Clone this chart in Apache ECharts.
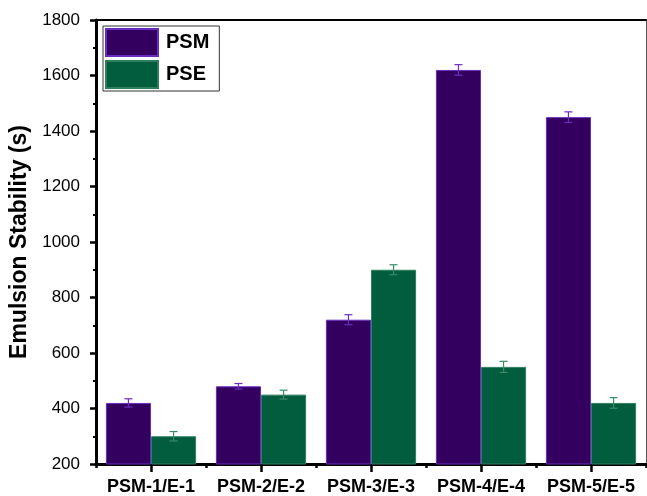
<!DOCTYPE html>
<html>
<head>
<meta charset="utf-8">
<script src="https://cdn.jsdelivr.net/npm/echarts@6/dist/echarts.min.js"></script>
<style>
  html, body { margin: 0; padding: 0; background: #fff; }
  #chart { width: 647px; height: 496px; }
</style>
</head>
<body>
<div id="chart"></div>
<script>
// Sample groups and measured emulsion stability (s) with standard deviations
const categories = ['PSM-1/E-1', 'PSM-2/E-2', 'PSM-3/E-3', 'PSM-4/E-4', 'PSM-5/E-5'];
const psmValues = [420, 480, 720, 1620, 1450];
const psmErrors = [15, 10, 18, 19, 19];
const pseValues = [300, 450, 900, 550, 420];
const pseErrors = [17, 16, 18, 20, 19];
const yTicks = [200, 400, 600, 800, 1000, 1200, 1400, 1600, 1800];

const PURPLE = '#33005f';
const PURPLE_EDGE = '#6a2cc0';
const GREEN = '#025d3f';
const GREEN_EDGE = '#2f7f5e';

const BAR_FRACTION = 0.41;

function errorBarRenderer(sign, color) {
  return function (params, api) {
    const idx = api.value(0);
    const val = api.value(1);
    const err = api.value(2);
    const band = api.size([1, 0])[0];
    const x = api.coord([idx, val])[0] + sign * band * BAR_FRACTION / 2;
    const yHi = api.coord([idx, val + err])[1];
    const yLo = api.coord([idx, val - err])[1];
    const cap = 4;
    const style = { stroke: color, lineWidth: 1.2 };
    return {
      type: 'group',
      children: [
        { type: 'line', shape: { x1: x, y1: yHi, x2: x, y2: yLo }, style },
        { type: 'line', shape: { x1: x - cap, y1: yHi, x2: x + cap, y2: yHi }, style },
        { type: 'line', shape: { x1: x - cap, y1: yLo, x2: x + cap, y2: yLo }, style }
      ]
    };
  };
}

const chart = echarts.init(document.getElementById('chart'), null, { renderer: 'canvas' });

const option = {
  animation: false,
  backgroundColor: '#fff',
  textStyle: { fontFamily: 'Liberation Sans, Arial, sans-serif' },
  grid: { left: 96, right: 1, top: 20, bottom: 31, containLabel: false },
  legend: {
    orient: 'vertical',
    left: 103,
    top: 26,
    itemWidth: 52,
    itemHeight: 27,
    itemGap: 3,
    padding: [2, 10, 2, 2],
    borderColor: '#333',
    borderWidth: 1,
    icon: 'rect',
    textStyle: { fontSize: 20, fontWeight: 'bold', color: '#000', padding: [0, 0, 0, 3] },
    data: ['PSM', 'PSE']
  },
  xAxis: [
    {
      type: 'category',
      data: categories,
      position: 'bottom',
      axisLine: { show: true, lineStyle: { color: '#000', width: 3 } },
      axisTick: { show: true, alignWithLabel: true, length: 8, lineStyle: { color: '#000', width: 2.5 } },
      axisLabel: { color: '#000', fontSize: 18, fontWeight: 'bold', margin: 14, interval: 0, hideOverlap: false },
      splitLine: { show: false }
    },
    {
      type: 'category',
      data: categories,
      position: 'bottom',
      axisLine: { show: false },
      axisTick: { show: true, alignWithLabel: false, interval: 0, length: 4, lineStyle: { color: '#000', width: 2.5 } },
      axisLabel: { show: false },
      splitLine: { show: false }
    },
    {
      type: 'category',
      data: categories,
      position: 'top',
      axisLine: { show: true, lineStyle: { color: '#000', width: 2 } },
      axisTick: { show: false },
      axisLabel: { show: false },
      splitLine: { show: false }
    }
  ],
  yAxis: [
    {
      type: 'value',
      min: yTicks[0],
      max: yTicks[yTicks.length - 1],
      interval: yTicks[1] - yTicks[0],
      name: 'Emulsion Stability (s)',
      nameLocation: 'middle',
      nameGap: 56,
      nameRotate: 90,
      nameTextStyle: { fontSize: 23, fontWeight: 'bold', color: '#000' },
      axisLine: { show: true, lineStyle: { color: '#000', width: 3 } },
      axisTick: { show: true, length: 6, lineStyle: { color: '#000', width: 2.5 } },
      minorTick: { show: true, splitNumber: 2, length: 3, lineStyle: { color: '#000', width: 2 } },
      axisLabel: { color: '#000', fontSize: 17, margin: 16, formatter: (v) => String(v) },
      splitLine: { show: false }
    },
    {
      type: 'value',
      position: 'right',
      axisLine: { show: true, lineStyle: { color: '#555', width: 1 } },
      axisTick: { show: false },
      axisLabel: { show: false },
      splitLine: { show: false }
    }
  ],
  series: [
    {
      name: 'PSM',
      type: 'bar',
      xAxisIndex: 0,
      yAxisIndex: 0,
      data: psmValues,
      barWidth: (BAR_FRACTION * 100) + '%',
      barGap: '0%',
      itemStyle: { color: PURPLE, borderColor: PURPLE_EDGE, borderWidth: 1 }
    },
    {
      name: 'PSE',
      type: 'bar',
      xAxisIndex: 0,
      yAxisIndex: 0,
      data: pseValues,
      barWidth: (BAR_FRACTION * 100) + '%',
      barGap: '0%',
      itemStyle: { color: GREEN, borderColor: GREEN_EDGE, borderWidth: 1 }
    },
    {
      name: 'PSM error',
      type: 'custom',
      xAxisIndex: 0,
      yAxisIndex: 0,
      z: 5,
      renderItem: errorBarRenderer(-1, '#6a2cc0'),
      encode: { x: 0, y: 1 },
      data: psmValues.map((v, i) => [i, v, psmErrors[i]])
    },
    {
      name: 'PSE error',
      type: 'custom',
      xAxisIndex: 0,
      yAxisIndex: 0,
      z: 5,
      renderItem: errorBarRenderer(1, '#3a8a68'),
      encode: { x: 0, y: 1 },
      data: pseValues.map((v, i) => [i, v, pseErrors[i]])
    }
  ]
};

chart.setOption(option);
</script>
</body>
</html>
